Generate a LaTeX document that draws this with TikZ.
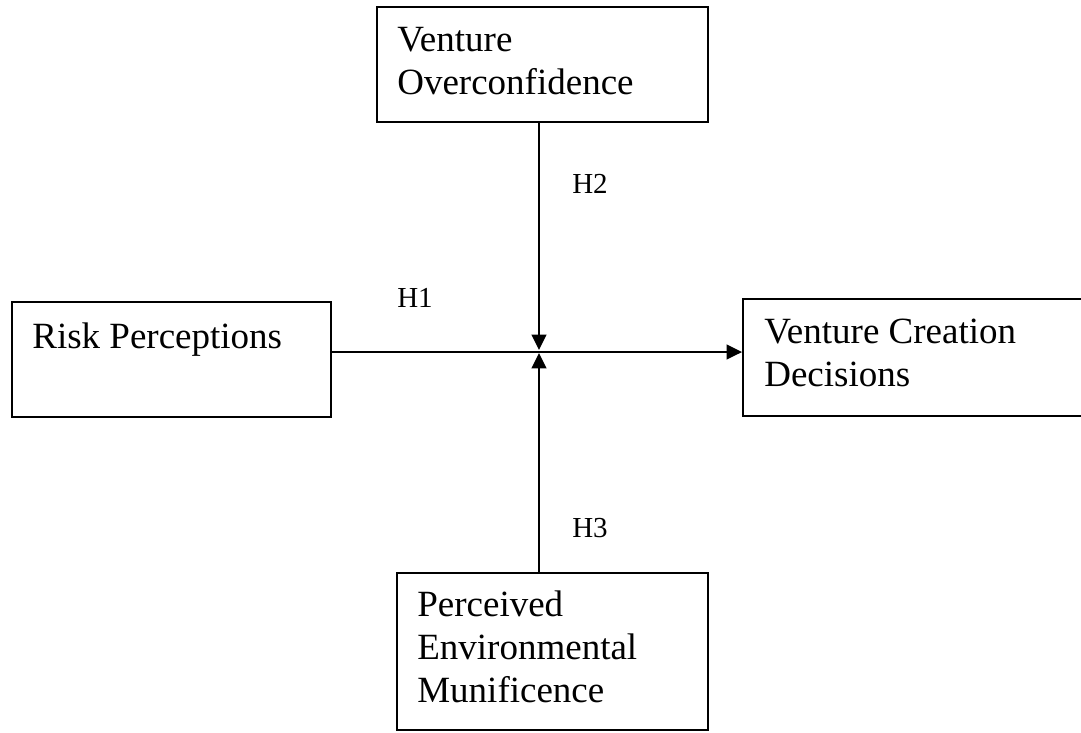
\documentclass[tikz,border=0pt]{standalone}
\usepackage{fontspec}
\setmainfont{Liberation Serif}
\usetikzlibrary{arrows.meta,calc,fit}
\begin{document}
\begin{tikzpicture}[x=0.75pt,y=-0.75pt,
  box/.style={draw=black,line width=1.4pt,rectangle,inner sep=0pt},
  txt/.style={anchor=north west,inner sep=0pt,align=left,font=\fontsize{27.75}{32.25}\selectfont},
  hlab/.style={anchor=base west,inner sep=0pt,font=\fontsize{21.75}{26}\selectfont},
  conn/.style={line width=1.4pt,-{Triangle[length=11.5pt,width=11pt]}}]
\useasboundingbox (0,0) rectangle (1081,732);
% boxes
\node[box,fit={(377,7) (708,122)}] (vo) {};
\node[box,fit={(12,302) (331,417)}] (rp) {};
\node[box,fit={(743,299) (1092,416)}] (vcd) {};
\node[box,fit={(397,573) (708,730)}] (pem) {};
% texts
\node[txt] (vot) at ($(vo.north west)+(21,21)$) {Venture\\Overconfidence};
\node[txt] (rpt) at ($(rp.north west)+(21,21)$) {Risk Perceptions};
\node[txt] (vcdt) at ($(vcd.north west)+(22,21)$) {Venture Creation\\Decisions};
\node[txt] (pemt) at ($(pem.north west)+(21,18)$) {Perceived\\Environmental\\Munificence};
% meeting points
\coordinate (mt) at (539,350);
\coordinate (mh) at (539,352);
\coordinate (mb) at (539,353);
% connectors
\draw[conn] (rp.east |- mh) -- (vcd.west |- mh);
\draw[conn] (vo.south -| mt) -- (mt);
\draw[conn] (pem.north -| mb) -- (mb);
% labels
\node[hlab] (h1) at (397,307) {H1};
\node[hlab] (h2) at (572,193) {H2};
\node[hlab] (h3) at (572,537) {H3};
\end{tikzpicture}
\end{document}
